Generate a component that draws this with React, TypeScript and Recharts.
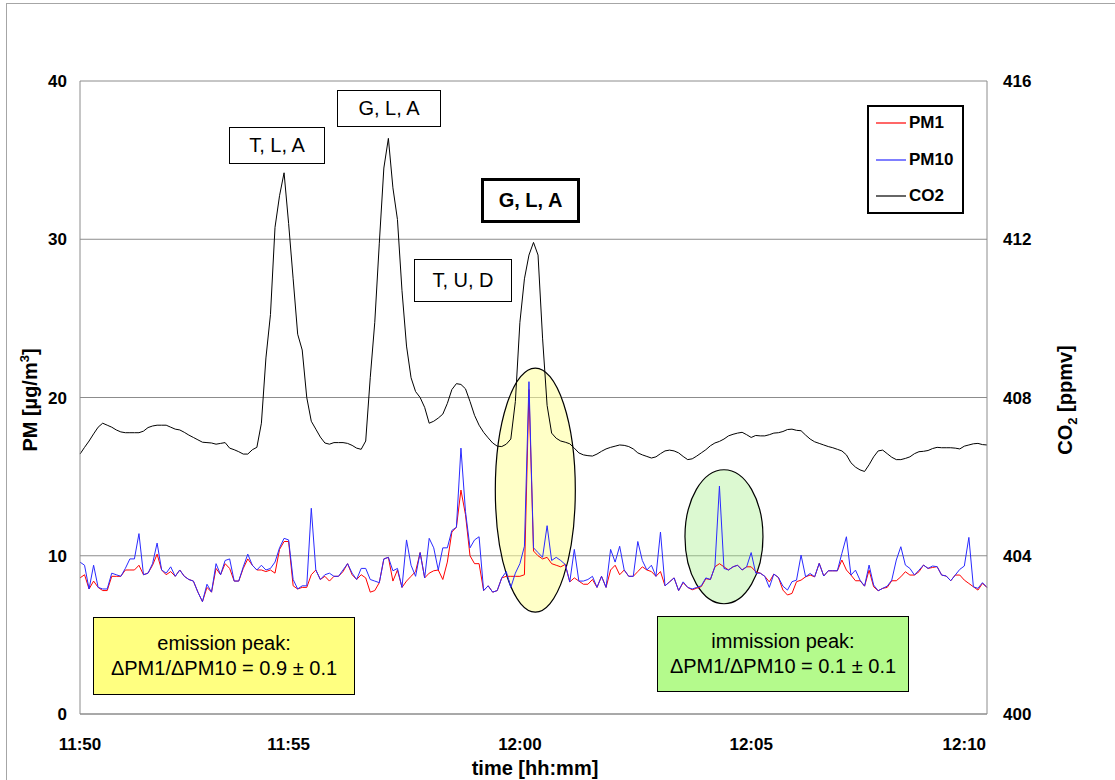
import React from 'react';
import { LineChart, Line, XAxis, YAxis, CartesianGrid, ReferenceDot } from 'recharts';

// ---- data (one value per sample, category axis) ----
const X_TICK_INDEX = [0, 46, 97, 148, 195];
const X_TICK_LABELS = ['11:50', '11:55', '12:00', '12:05', '12:10'];
const PM_TICKS = [0, 10, 20, 30, 40];
const CO2_TICKS = [400, 404, 408, 412, 416];

const PM10 = [
  9.6, 9.4, 7.9, 9.4, 8.0, 7.9, 7.9, 8.9, 8.8, 8.7,
  9.2, 9.8, 9.8, 11.4, 8.8, 8.9, 9.5, 10.8, 9.1, 8.9,
  9.3, 8.7, 9.1, 8.7, 8.5, 8.4, 7.7, 7.1, 8.2, 7.7,
  9.5, 8.8, 9.7, 9.8, 8.4, 8.4, 9.3, 10.1, 9.4, 9.1,
  9.4, 9.1, 9.2, 9.6, 10.5, 11.1, 11.0, 8.5, 7.9, 8.1,
  8.1, 13.0, 9.1, 8.5, 8.8, 8.9, 8.7, 8.7, 9.1, 9.5,
  8.9, 8.5, 9.2, 9.2, 8.5, 8.4, 8.3, 9.8, 9.9, 9.05,
  9.2, 8.0, 11.0, 9.4, 8.7, 10.2, 8.6, 11.1, 10.5, 9.1,
  10.5, 10.5, 11.6, 11.8, 16.8, 12.8, 10.5, 11.0, 11.2, 7.8,
  8.1, 7.7, 7.8, 8.6, 9.0, 8.0, 8.9, 9.5, 10.6, 21.0,
  10.5, 10.2, 9.9, 11.9, 9.7, 9.9, 9.7, 9.45, 8.35, 10.4,
  8.4, 8.4, 8.5, 8.7, 8.0, 8.7, 8.0, 10.4, 9.6, 10.6,
  9.1, 8.7, 8.7, 10.9, 9.7, 9.1, 9.4, 8.7, 11.5, 8.1,
  8.35, 8.6, 7.8, 8.35, 8.0, 7.9, 8.0, 8.1, 8.6, 8.5,
  9.3, 14.4, 9.2, 9.1, 9.3, 9.4, 9.1, 9.3, 10.2, 8.9,
  8.9, 8.7, 8.0, 8.84, 8.63, 8.08, 7.83, 8.36, 8.46, 10.04,
  8.67, 8.88, 8.67, 9.52, 8.72, 9.05, 9.05, 9.05, 10.15, 11.2,
  8.78, 9.09, 8.46, 8.08, 9.41, 8.15, 7.79, 7.94, 8.08, 8.46,
  9.73, 10.57, 9.41, 9.2, 8.78, 9.09, 9.41, 9.2, 9.35, 9.31,
  8.78, 8.72, 8.42, 8.78, 9.14, 9.35, 11.16, 8.04, 7.94, 8.3,
  8.0,
];

const PM1 = [
  8.6, 8.8, 7.9, 8.4, 8.0, 7.8, 7.8, 8.7, 8.7, 8.7,
  9.1, 9.1, 9.1, 9.4, 8.8, 8.9, 9.4, 10.1, 9.1, 8.8,
  9.0, 8.7, 9.1, 8.7, 8.5, 8.4, 7.7, 7.1, 8.0, 7.7,
  9.2, 8.8, 9.5, 9.2, 8.4, 8.4, 9.2, 9.8, 9.4, 9.1,
  9.1, 9.0, 9.1, 8.9, 10.4, 10.9, 10.9, 8.1, 7.9, 8.0,
  8.0, 8.8, 9.1, 8.5, 8.7, 8.4, 8.7, 8.7, 9.0, 9.5,
  8.8, 8.5, 8.8, 8.6, 7.7, 7.8, 8.3, 9.8, 9.9, 8.4,
  9.1, 8.0, 8.4, 8.7, 9.0, 10.2, 8.6, 8.9, 9.05, 9.1,
  8.5, 9.6, 11.5, 11.8, 14.15, 12.6, 10.0, 9.5, 9.5, 7.8,
  8.1, 7.7, 7.8, 8.6, 8.7, 8.7, 8.7, 8.7, 8.8, 20.5,
  10.3, 10.0, 9.8, 9.9, 9.5, 9.4, 9.3, 9.45, 8.35, 8.6,
  8.4, 8.2, 8.2, 8.5, 8.0, 8.7, 8.0, 9.1, 9.4, 8.8,
  9.1, 8.7, 8.7, 9.0, 9.3, 9.1, 9.0, 8.7, 9.0, 8.1,
  8.35, 8.6, 7.8, 8.3, 8.0, 7.85, 7.95, 8.05, 8.55, 8.5,
  9.3, 9.5, 9.3, 9.1, 9.3, 9.4, 9.1, 9.3, 9.3, 9.0,
  8.9, 8.7, 8.35, 8.84, 8.63, 7.83, 7.52, 7.62, 8.36, 8.46,
  8.67, 8.78, 8.67, 9.52, 8.72, 9.05, 9.05, 9.05, 9.73, 9.1,
  8.78, 8.42, 8.42, 8.08, 9.09, 8.04, 7.79, 7.94, 8.0, 8.42,
  8.42, 8.67, 8.99, 8.78, 8.78, 8.99, 9.41, 9.2, 9.26, 9.31,
  8.78, 8.72, 8.42, 8.78, 8.78, 8.46, 8.25, 8.04, 7.83, 8.25,
  8.0,
];

const CO2 = [
  406.57, 406.74, 406.90, 407.08, 407.25, 407.35, 407.30, 407.25, 407.18, 407.13,
  407.11, 407.11, 407.11, 407.11, 407.15, 407.24, 407.28, 407.30, 407.30, 407.30,
  407.25, 407.20, 407.18, 407.12, 407.05, 406.99, 406.93, 406.87, 406.86, 406.85,
  406.82, 406.84, 406.86, 406.72, 406.68, 406.63, 406.57, 406.57, 406.68, 406.74,
  407.35, 409.0, 410.1, 412.3, 413.1, 413.68, 412.4, 411.0, 409.6, 409.2,
  408.0, 407.4, 407.2, 407.0, 406.85, 406.82, 406.86, 406.86, 406.86, 406.84,
  406.79, 406.72, 406.69, 406.9, 408.5, 409.9, 411.9, 413.8, 414.55, 413.3,
  412.5, 410.7, 409.3, 408.5, 408.15, 408.0, 407.75, 407.35, 407.4, 407.48,
  407.58, 407.85, 408.2, 408.35, 408.33, 408.22, 407.9, 407.55, 407.3, 407.12,
  406.98, 406.85, 406.77, 406.76, 406.82, 406.95, 407.9, 409.9, 411.0, 411.6,
  411.92, 411.6, 409.5, 407.8, 407.1, 406.97, 406.9, 406.87, 406.83, 406.72,
  406.6, 406.55, 406.53, 406.52, 406.57, 406.64, 406.7, 406.74, 406.77, 406.8,
  406.79, 406.76, 406.7, 406.6, 406.55, 406.51, 406.47, 406.5, 406.58, 406.65,
  406.67, 406.65, 406.6, 406.51, 406.43, 406.45, 406.52, 406.6, 406.68, 406.78,
  406.85, 406.89, 406.95, 407.03, 407.07, 407.1, 407.12, 407.06, 406.99, 407.04,
  407.03, 407.03, 407.06, 407.1, 407.11, 407.14, 407.19, 407.2, 407.17, 407.16,
  407.05, 406.95, 406.88, 406.84, 406.8, 406.76, 406.73, 406.69, 406.65, 406.55,
  406.35, 406.24, 406.17, 406.13, 406.3, 406.5, 406.65, 406.67, 406.58, 406.49,
  406.43, 406.43, 406.46, 406.5, 406.58, 406.63, 406.64, 406.66, 406.71, 406.74,
  406.73, 406.73, 406.73, 406.72, 406.7, 406.77, 406.8, 406.83, 406.84, 406.81,
  406.8,
];

const SERIES = [
  { key: 'pm1', name: 'PM1', color: '#ff0000', axis: 'pm' },
  { key: 'pm10', name: 'PM10', color: '#2a2aff', axis: 'pm' },
  { key: 'co2', name: 'CO2', color: '#000000', axis: 'co2' },
];

// annotation anchors (sample index, PM value)
const EMISSION_ELLIPSE = { i: 100.4, pm: 14.15 };
const IMMISSION_ELLIPSE = { i: 142, pm: 11.2 };

const data = CO2.map((c, i) => ({
  i,
  pm1: PM1[i],
  pm10: PM10[i],
  co2: c,
}));

const FONT = '"Liberation Sans", Arial, Helvetica, sans-serif';
const GRID = '#8c8c8c';
const tickStyle = { fontSize: 17, fontWeight: 'bold', fill: '#000', fontFamily: FONT };

const makeEllipse = (rx: number, ry: number, fill: string, opacity: number) => (props: any) => (
  <ellipse
    cx={props.cx}
    cy={props.cy}
    rx={rx}
    ry={ry}
    fill={fill}
    fillOpacity={opacity}
    stroke="#000"
    strokeWidth={1.2}
  />
);

const boxBase: React.CSSProperties = {
  position: 'absolute',
  boxSizing: 'border-box',
  border: '1px solid #000',
  background: '#fff',
  display: 'flex',
  alignItems: 'center',
  justifyContent: 'center',
  fontFamily: FONT,
  fontSize: 20,
  color: '#000',
  whiteSpace: 'nowrap',
};

export default function App() {
  return (
    <div
      style={{
        position: 'fixed',
        left: 0,
        top: 0,
        width: 1115,
        height: 780,
        overflow: 'hidden',
        background: '#fff',
        fontFamily: FONT,
      }}
    >
      <div
        style={{
          position: 'absolute',
          left: 6,
          top: 3,
          width: 1300,
          height: 1000,
          border: '1px solid #a6a6a6',
        }}
      />
      <div style={{ position: 'absolute', left: 0, top: 0 }}>
        <LineChart
          width={1115}
          height={780}
          data={data}
          margin={{ top: 81, right: 48, bottom: 36, left: 0 }}
          style={{ fontFamily: FONT }}
        >
          <CartesianGrid yAxisId="pm" horizontal vertical={false} stroke={GRID} />
          <XAxis
            dataKey="i"
            type="number"
            domain={[0, CO2.length - 1]}
            ticks={X_TICK_INDEX}
            interval={0}
            tickFormatter={(v: number) => X_TICK_LABELS[X_TICK_INDEX.indexOf(v)] ?? ''}
            tickSize={0}
            tickMargin={24}
            tickLine={false}
            height={30}
            axisLine={{ stroke: GRID }}
            tick={tickStyle}
          />
          <YAxis
            yAxisId="pm"
            orientation="left"
            domain={[0, 40]}
            ticks={PM_TICKS}
            interval={0}
            width={80}
            tickSize={0}
            tickMargin={13}
            tickLine={false}
            axisLine={{ stroke: GRID }}
            tick={tickStyle}
          />
          <YAxis
            yAxisId="co2"
            orientation="right"
            domain={[400, 416]}
            ticks={CO2_TICKS}
            interval={0}
            width={80}
            tickSize={0}
            tickMargin={16}
            tickLine={false}
            axisLine={{ stroke: GRID }}
            tick={tickStyle}
          />
          <ReferenceDot
            yAxisId="pm"
            x={EMISSION_ELLIPSE.i}
            y={EMISSION_ELLIPSE.pm}
            zIndex={50}
            shape={makeEllipse(40, 122, '#ffff99', 0.55)}
          />
          <ReferenceDot
            yAxisId="pm"
            x={IMMISSION_ELLIPSE.i}
            y={IMMISSION_ELLIPSE.pm}
            zIndex={50}
            shape={makeEllipse(39, 67, '#a8f08c', 0.4)}
          />
          {SERIES.map((s) => (
            <Line
              key={s.key}
              yAxisId={s.axis}
              dataKey={s.key}
              name={s.name}
              type="linear"
              stroke={s.color}
              strokeWidth={1}
              dot={false}
              activeDot={false}
              isAnimationActive={false}
            />
          ))}
        </LineChart>
      </div>

      {/* peak labels */}
      <div style={{ ...boxBase, left: 229, top: 127, width: 96, height: 37 }}>T, L, A</div>
      <div style={{ ...boxBase, left: 337, top: 90, width: 104, height: 37 }}>G, L, A</div>
      <div style={{ ...boxBase, left: 414, top: 259, width: 98, height: 43 }}>T, U, D</div>
      <div
        style={{
          ...boxBase,
          left: 481,
          top: 178,
          width: 99,
          height: 45,
          border: '3px solid #000',
          fontWeight: 'bold',
        }}
      >
        G, L, A
      </div>

      {/* info boxes */}
      <div
        style={{
          ...boxBase,
          left: 93,
          top: 617,
          width: 262,
          height: 78,
          background: '#ffff80',
          flexDirection: 'column',
          lineHeight: '25px',
        }}
      >
        <div>emission peak:</div>
        <div>ΔPM1/ΔPM10 = 0.9 ± 0.1</div>
      </div>
      <div
        style={{
          ...boxBase,
          left: 657,
          top: 616,
          width: 252,
          height: 76,
          background: '#b4fa8c',
          flexDirection: 'column',
          lineHeight: '25px',
        }}
      >
        <div>immission peak:</div>
        <div>ΔPM1/ΔPM10 = 0.1 ± 0.1</div>
      </div>

      {/* legend */}
      <div
        style={{
          position: 'absolute',
          left: 867,
          top: 105,
          width: 97,
          height: 109,
          boxSizing: 'border-box',
          border: '2px solid #000',
          background: '#fff',
        }}
      >
        {SERIES.map((s, i) => (
          <div
            key={s.key}
            style={{
              position: 'absolute',
              left: 7,
              top: 6 + i * 36.5,
              height: 20,
              display: 'flex',
              alignItems: 'center',
            }}
          >
            <svg width={30} height={20} style={{ display: 'block' }}>
              <line x1={0} y1={10} x2={30} y2={10} stroke={s.color} strokeWidth={1.2} />
            </svg>
            <div
              style={{
                marginLeft: 3,
                fontSize: 17,
                fontWeight: 'bold',
                fontFamily: FONT,
                color: '#000',
              }}
            >
              {s.name}
            </div>
          </div>
        ))}
      </div>

      {/* axis titles */}
      <div
        style={{
          position: 'absolute',
          left: 30,
          top: 400,
          transform: 'translate(-50%, -50%) rotate(-90deg)',
          whiteSpace: 'nowrap',
          fontSize: 20,
          fontWeight: 'bold',
          fontFamily: FONT,
        }}
      >
        PM [µg/m<sup style={{ fontSize: 13, lineHeight: 0 }}>3</sup>]
      </div>
      <div
        style={{
          position: 'absolute',
          left: 1065,
          top: 400,
          transform: 'translate(-50%, -50%) rotate(-90deg)',
          whiteSpace: 'nowrap',
          fontSize: 20,
          fontWeight: 'bold',
          fontFamily: FONT,
        }}
      >
        CO<sub style={{ fontSize: 13, lineHeight: 0 }}>2</sub> [ppmv]
      </div>
      <div
        style={{
          position: 'absolute',
          left: 535,
          top: 768,
          transform: 'translate(-50%, -50%)',
          whiteSpace: 'nowrap',
          fontSize: 20,
          fontWeight: 'bold',
          fontFamily: FONT,
        }}
      >
        time [hh:mm]
      </div>
    </div>
  );
}
